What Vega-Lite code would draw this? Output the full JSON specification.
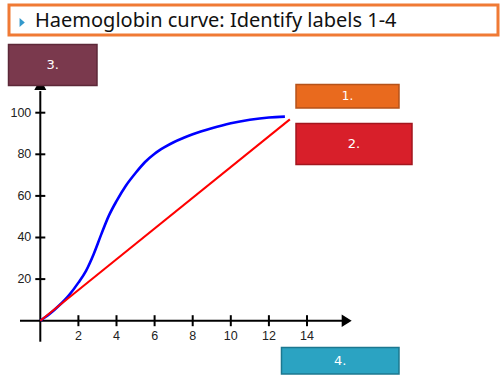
{
  "$schema": "https://vega.github.io/schema/vega-lite/v6.json",
  "width": 500,
  "height": 375,
  "autosize": {"type": "none"},
  "padding": 0,
  "background": "white",
  "config": {"view": {"stroke": null}, "axis": {"disable": true}},
  "datasets": {
    "curves": [
      {"series": "haemoglobin", "x": 0, "y": 0},
      {"series": "haemoglobin", "x": 0.5, "y": 3.3},
      {"series": "haemoglobin", "x": 1.0, "y": 7.4},
      {"series": "haemoglobin", "x": 1.5, "y": 12.2},
      {"series": "haemoglobin", "x": 2.0, "y": 18.3},
      {"series": "haemoglobin", "x": 2.4, "y": 24},
      {"series": "haemoglobin", "x": 2.8, "y": 32},
      {"series": "haemoglobin", "x": 3.2, "y": 41.5},
      {"series": "haemoglobin", "x": 3.6, "y": 50.5},
      {"series": "haemoglobin", "x": 4.0, "y": 57.5},
      {"series": "haemoglobin", "x": 4.5, "y": 65},
      {"series": "haemoglobin", "x": 5.0, "y": 71},
      {"series": "haemoglobin", "x": 5.5, "y": 76.3},
      {"series": "haemoglobin", "x": 6.0, "y": 80.3},
      {"series": "haemoglobin", "x": 6.5, "y": 83.3},
      {"series": "haemoglobin", "x": 7.0, "y": 85.8},
      {"series": "haemoglobin", "x": 7.5, "y": 87.8},
      {"series": "haemoglobin", "x": 8.0, "y": 89.6},
      {"series": "haemoglobin", "x": 9.0, "y": 92.5},
      {"series": "haemoglobin", "x": 10.0, "y": 94.9},
      {"series": "haemoglobin", "x": 11.0, "y": 96.6},
      {"series": "haemoglobin", "x": 12.0, "y": 97.7},
      {"series": "haemoglobin", "x": 12.84, "y": 98.1},
      {"series": "linear", "x": 0, "y": 0},
      {"series": "linear", "x": 13.1, "y": 96.8}
    ],
    "xticks": [{"value": 2}, {"value": 4}, {"value": 6}, {"value": 8}, {"value": 10}, {"value": 12}, {"value": 14}],
    "yticks": [{"value": 20}, {"value": 40}, {"value": 60}, {"value": 80}, {"value": 100}]
  },
  "layer": [
    {
      "data": {"values": [{"title": "Haemoglobin curve: Identify labels 1-4"}]},
      "mark": {"type": "rect", "fill": "white", "stroke": "#F07A35", "strokeWidth": 3},
      "encoding": {
        "x": {"datum": -1.643, "type": "quantitative", "scale": {"domain": [-2.1155, 24.131], "zero": false, "nice": false}, "axis": null},
        "x2": {"datum": 24.026},
        "y": {"datum": 151.78, "type": "quantitative", "scale": {"domain": [-26.106, 154.18], "zero": false, "nice": false}, "axis": null},
        "y2": {"datum": 137.36}
      }
    },
    {
      "data": {"values": [{"title": "Haemoglobin curve: Identify labels 1-4"}]},
      "mark": {"type": "text", "align": "left", "baseline": "alphabetic", "font": "Noto Sans", "fontSize": 20, "color": "#111111"},
      "encoding": {
        "x": {"datum": -0.278, "type": "quantitative"},
        "y": {"datum": 141.2, "type": "quantitative"},
        "text": {"field": "title"}
      }
    },
    {
      "data": {"values": [{"bullet": "title"}]},
      "mark": {"type": "point", "shape": "M-0.6,-1.1L0.7,0L-0.6,1.1Z", "filled": true, "size": 64, "color": "#3399CC", "opacity": 1},
      "encoding": {
        "x": {"datum": -0.961, "type": "quantitative"},
        "y": {"datum": 143.37, "type": "quantitative"}
      }
    },
    {
      "data": {"values": [{"axis": "x"}]},
      "mark": {"type": "rule", "color": "black", "strokeWidth": 2},
      "encoding": {
        "x": {"datum": -1.066, "type": "quantitative"},
        "x2": {"datum": 15.837},
        "y": {"datum": 0, "type": "quantitative"}
      }
    },
    {
      "data": {"values": [{"axis": "y"}]},
      "mark": {"type": "rule", "color": "black", "strokeWidth": 2},
      "encoding": {
        "x": {"datum": 0, "type": "quantitative"},
        "y": {"datum": -10.1, "type": "quantitative"},
        "y2": {"datum": 110.4}
      }
    },
    {
      "data": {"values": [{"axis": "x"}]},
      "mark": {"type": "point", "shape": "M-1,-1.25L1,0L-1,1.25Z", "filled": true, "size": 100, "color": "black", "opacity": 1},
      "encoding": {
        "x": {"datum": 16.084, "type": "quantitative"},
        "y": {"datum": 0, "type": "quantitative"}
      }
    },
    {
      "data": {"values": [{"axis": "y"}]},
      "mark": {"type": "point", "shape": "M-1.2,1L0,-1.2L1.2,1Z", "filled": true, "size": 100, "color": "black", "opacity": 1},
      "encoding": {
        "x": {"datum": 0, "type": "quantitative"},
        "y": {"datum": 113.3, "type": "quantitative"}
      }
    },
    {
      "data": {"name": "xticks"},
      "mark": {"type": "tick", "orient": "vertical", "size": 11, "thickness": 2, "color": "black", "opacity": 1},
      "encoding": {
        "x": {"field": "value", "type": "quantitative"},
        "y": {"datum": 0, "type": "quantitative"}
      }
    },
    {
      "data": {"name": "yticks"},
      "mark": {"type": "tick", "orient": "horizontal", "size": 10, "thickness": 2, "color": "black", "opacity": 1},
      "encoding": {
        "x": {"datum": 0, "type": "quantitative"},
        "y": {"field": "value", "type": "quantitative"}
      }
    },
    {
      "data": {"name": "xticks"},
      "mark": {"type": "text", "align": "center", "baseline": "middle", "dy": 15, "font": "Liberation Sans", "fontSize": 12.5, "color": "#222222"},
      "encoding": {
        "x": {"field": "value", "type": "quantitative"},
        "y": {"datum": 0, "type": "quantitative"},
        "text": {"field": "value"}
      }
    },
    {
      "data": {"name": "yticks"},
      "mark": {"type": "text", "align": "right", "baseline": "middle", "dx": -9, "font": "Liberation Sans", "fontSize": 12.5, "color": "#222222"},
      "encoding": {
        "x": {"datum": 0, "type": "quantitative"},
        "y": {"field": "value", "type": "quantitative"},
        "text": {"field": "value"}
      }
    },
    {
      "data": {"name": "curves"},
      "transform": [{"filter": "datum.series === 'haemoglobin'"}],
      "mark": {"type": "line", "interpolate": "monotone", "strokeWidth": 2.6, "color": "#0000FF"},
      "encoding": {
        "x": {"field": "x", "type": "quantitative"},
        "y": {"field": "y", "type": "quantitative"},
        "order": {"field": "x", "type": "quantitative"}
      }
    },
    {
      "data": {"name": "curves"},
      "transform": [{"filter": "datum.series === 'linear'"}],
      "mark": {"type": "line", "strokeWidth": 2, "color": "#FF0000"},
      "encoding": {
        "x": {"field": "x", "type": "quantitative"},
        "y": {"field": "y", "type": "quantitative"},
        "order": {"field": "x", "type": "quantitative"}
      }
    },
    {
      "data": {"values": [{"label": "3."}]},
      "layer": [
        {
          "mark": {"type": "rect", "fill": "#7A394D", "stroke": "#5C2838", "strokeWidth": 1.5},
          "encoding": {
            "x": {"datum": -1.669, "type": "quantitative"},
            "x2": {"datum": 2.976},
            "y": {"datum": 132.79, "type": "quantitative"},
            "y2": {"datum": 113.08}
          }
        },
        {
          "mark": {"type": "text", "align": "center", "baseline": "middle", "font": "DejaVu Sans", "fontSize": 13, "color": "white"},
          "encoding": {
            "x": {"datum": 0.654, "type": "quantitative"},
            "y": {"datum": 122.9, "type": "quantitative"},
            "text": {"field": "label"}
          }
        }
      ]
    },
    {
      "data": {"values": [{"label": "1."}]},
      "layer": [
        {
          "mark": {"type": "rect", "fill": "#E96A1E", "stroke": "#B5521A", "strokeWidth": 1.5},
          "encoding": {
            "x": {"datum": 13.423, "type": "quantitative"},
            "x2": {"datum": 18.829},
            "y": {"datum": 113.56, "type": "quantitative"},
            "y2": {"datum": 102.26}
          }
        },
        {
          "mark": {"type": "text", "align": "center", "baseline": "middle", "font": "DejaVu Sans", "fontSize": 12, "color": "white"},
          "encoding": {
            "x": {"datum": 16.126, "type": "quantitative"},
            "y": {"datum": 107.9, "type": "quantitative"},
            "text": {"field": "label"}
          }
        }
      ]
    },
    {
      "data": {"values": [{"label": "2."}]},
      "layer": [
        {
          "mark": {"type": "rect", "fill": "#D81F2A", "stroke": "#A3161E", "strokeWidth": 1.5},
          "encoding": {
            "x": {"datum": 13.423, "type": "quantitative"},
            "x2": {"datum": 19.512},
            "y": {"datum": 94.81, "type": "quantitative"},
            "y2": {"datum": 75.1}
          }
        },
        {
          "mark": {"type": "text", "align": "center", "baseline": "middle", "font": "DejaVu Sans", "fontSize": 13, "color": "white"},
          "encoding": {
            "x": {"datum": 16.47, "type": "quantitative"},
            "y": {"datum": 84.96, "type": "quantitative"},
            "text": {"field": "label"}
          }
        }
      ]
    },
    {
      "data": {"values": [{"label": "4."}]},
      "layer": [
        {
          "mark": {"type": "rect", "fill": "#2BA3C2", "stroke": "#1C7890", "strokeWidth": 1.5},
          "encoding": {
            "x": {"datum": 12.661, "type": "quantitative"},
            "x2": {"datum": 18.829},
            "y": {"datum": -12.885, "type": "quantitative"},
            "y2": {"datum": -25.625}
          }
        },
        {
          "mark": {"type": "text", "align": "center", "baseline": "middle", "font": "DejaVu Sans", "fontSize": 13, "color": "white"},
          "encoding": {
            "x": {"datum": 15.745, "type": "quantitative"},
            "y": {"datum": -19.26, "type": "quantitative"},
            "text": {"field": "label"}
          }
        }
      ]
    }
  ]
}
